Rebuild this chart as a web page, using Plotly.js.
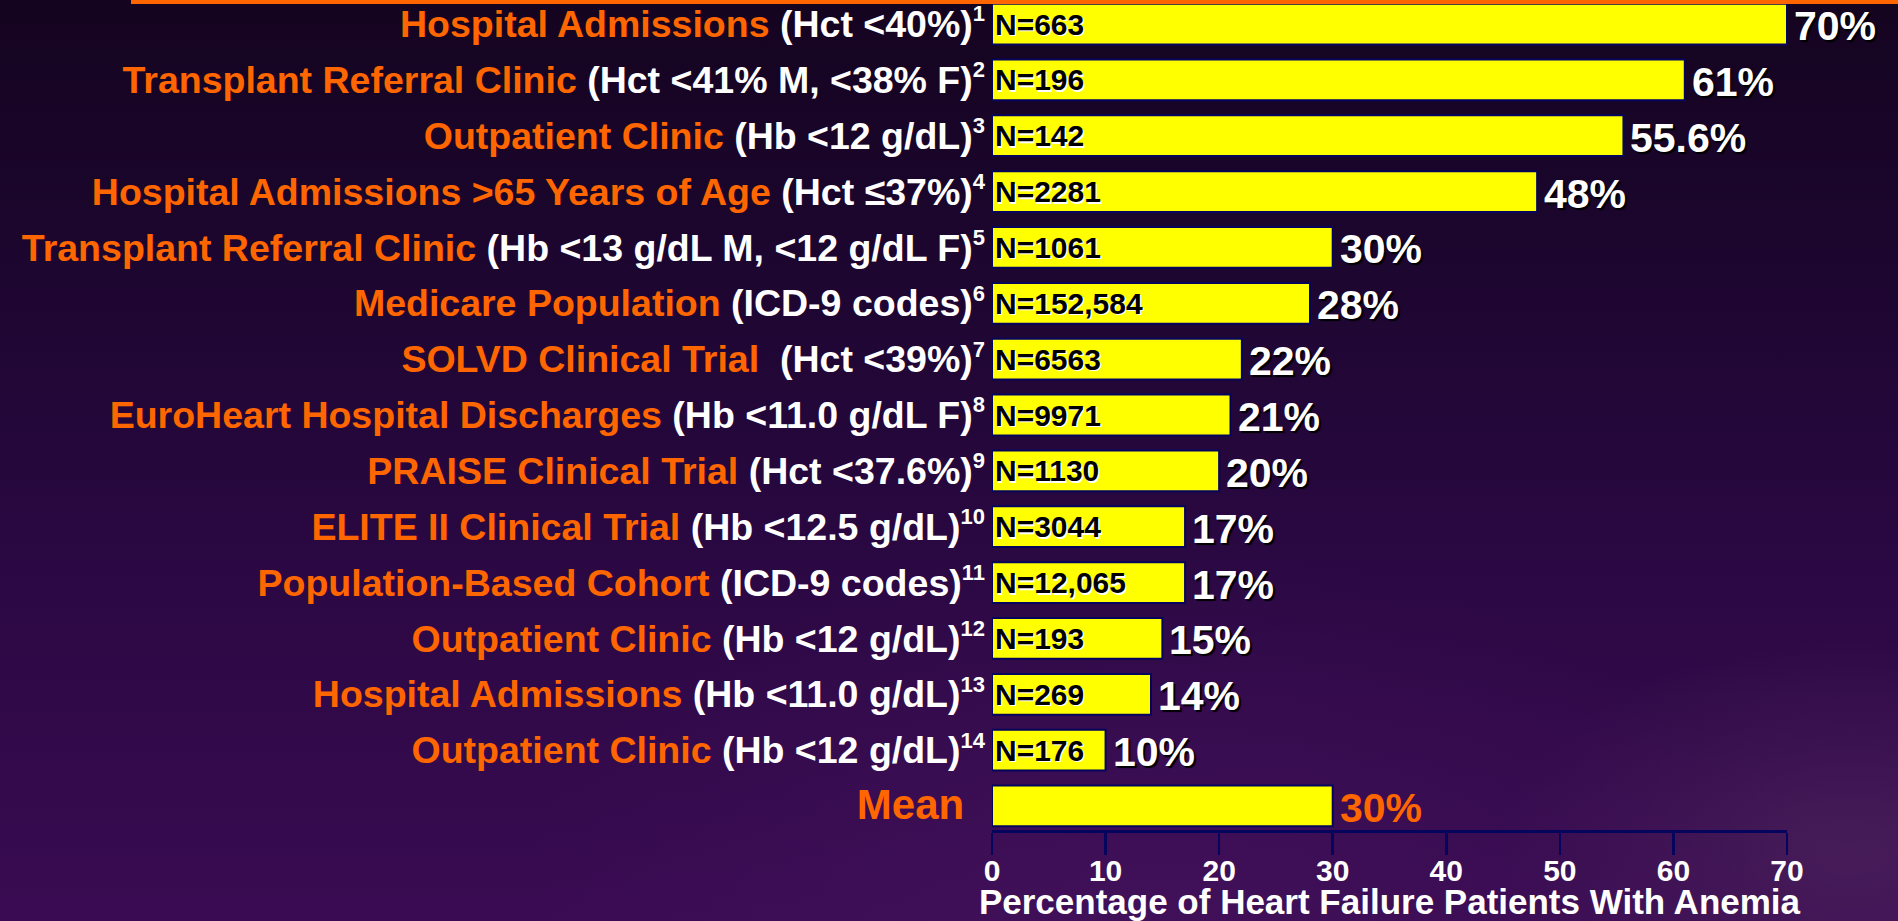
<!DOCTYPE html>
<html>
<head>
<meta charset="utf-8">
<script src="https://cdn.plot.ly/plotly-3.0.1.min.js"></script>
<style>
  html, body { margin: 0; padding: 0; width: 1898px; height: 921px; overflow: hidden; }
  body {
    background:
      radial-gradient(ellipse 900px 500px at 1150px 900px, rgba(70,20,95,0.55), rgba(70,20,95,0) 70%),
      radial-gradient(ellipse 500px 300px at 1850px 850px, rgba(90,50,100,0.45), rgba(90,50,100,0) 70%),
      linear-gradient(180deg, #150420 0%, #1d0630 30%, #2a0842 60%, #3a0b52 100%);
  }
  #chart { width: 1898px; height: 921px; }
</style>
</head>
<body>
<div id="chart"></div>
<script>
// ---- data ----
const studyNames = [
  "Hospital Admissions",
  "Transplant Referral Clinic",
  "Outpatient Clinic",
  "Hospital Admissions >65 Years of Age",
  "Transplant Referral Clinic",
  "Medicare Population",
  "SOLVD Clinical Trial",
  "EuroHeart Hospital Discharges",
  "PRAISE Clinical Trial",
  "ELITE II Clinical Trial",
  "Population-Based Cohort",
  "Outpatient Clinic",
  "Hospital Admissions",
  "Outpatient Clinic",
  "Mean"
];
const criteria = [
  "(Hct <40%)",
  "(Hct <41% M, <38% F)",
  "(Hb <12 g/dL)",
  "(Hct \u226437%)",
  "(Hb <13 g/dL M, <12 g/dL F)",
  "(ICD-9 codes)",
  "\u00a0(Hct <39%)",
  "(Hb <11.0 g/dL F)",
  "(Hct <37.6%)",
  "(Hb <12.5 g/dL)",
  "(ICD-9 codes)",
  "(Hb <12 g/dL)",
  "(Hb <11.0 g/dL)",
  "(Hb <12 g/dL)",
  ""
];
const refs = ["1","2","3","4","5","6","7","8","9","10","11","12","13","14",""];
const percentages = [70, 61, 55.6, 48, 30, 28, 22, 21, 20, 17, 17, 15, 14, 10, 30];
const percentLabels = ["70%","61%","55.6%","48%","30%","28%","22%","21%","20%","17%","17%","15%","14%","10%","30%"];
const sampleSizes = ["N=663","N=196","N=142","N=2281","N=1061","N=152,584","N=6563","N=9971","N=1130","N=3044","N=12,065","N=193","N=269","N=176",""];
const xTicks = [0, 10, 20, 30, 40, 50, 60, 70];
const xTitle = "Percentage of Heart Failure Patients With Anemia";

// ---- build ----
const FONT = "Liberation Sans, Arial, Helvetica, sans-serif";
const ORANGE = "#FF6600";
const NAVY = "#05055e";

const cats = studyNames.map((n, i) => "row" + i);
const tickText = studyNames.map((n, i) => {
  if (n === "Mean") {
    return '<span style="color:' + ORANGE + ';font-size:42px">' + n + '</span>\u00a0\u00a0';
  }
  return '<span style="color:' + ORANGE + '">' + n + '</span> ' + criteria[i] +
         '<sup><span style="font-size:22px">' + refs[i] + '</span></sup>';
});

const barTrace = {
  type: "bar",
  orientation: "h",
  x: percentages,
  y: cats,
  text: sampleSizes,
  textposition: "inside",
  insidetextanchor: "start",
  constraintext: "none",
  textangle: 0,
  insidetextfont: { family: FONT, size: 30, color: "#000000", weight: "bold", shadow: "1.5px 1.5px 0px #ffffff" },
  marker: { color: "#FFFF00", line: { color: NAVY, width: 2 } },
  cliponaxis: false,
  hoverinfo: "skip"
};

const annotations = percentages.map((v, i) => ({
  x: v,
  y: cats[i],
  xref: "x",
  yref: "y",
  text: percentLabels[i],
  showarrow: false,
  xanchor: "left",
  yanchor: "middle",
  xshift: 5,
  yshift: -2,
  font: {
    family: FONT, size: 41, weight: "bold",
    color: studyNames[i] === "Mean" ? ORANGE : "#ffffff",
    shadow: studyNames[i] === "Mean" ? "none" : "2px 2px 1px #000000"
  }
}));

const layout = {
  width: 1898,
  height: 921,
  margin: { l: 992, r: 111, t: 0, b: 91, pad: 0 },
  paper_bgcolor: "rgba(0,0,0,0)",
  plot_bgcolor: "rgba(0,0,0,0)",
  showlegend: false,
  bargap: 0.27,
  font: { family: FONT, color: "#ffffff", weight: "bold" },
  xaxis: {
    range: [0, 70],
    tickvals: xTicks,
    ticktext: xTicks.map(String),
    ticks: "outside",
    ticklen: 22,
    tickwidth: 2.5,
    tickcolor: NAVY,
    showline: true,
    linecolor: NAVY,
    linewidth: 3,
    showgrid: false,
    zeroline: false,
    ticklabelstandoff: -10,
    tickfont: { family: FONT, size: 30, color: "#ffffff", weight: "bold" },
    title: { text: xTitle, font: { family: FONT, size: 35, color: "#ffffff", weight: "bold" }, standoff: 2 },
    automargin: false,
    fixedrange: true
  },
  yaxis: {
    type: "category",
    categoryorder: "array",
    categoryarray: cats,
    tickvals: cats,
    ticktext: tickText,
    range: [14.43, -0.43],
    ticks: "",
    showline: false,
    showgrid: false,
    zeroline: false,
    ticklabelstandoff: 6,
    tickfont: { family: FONT, size: 37.5, color: "#ffffff", weight: "bold" },
    automargin: false,
    fixedrange: true
  },
  annotations: annotations,
  shapes: [{
    type: "rect", xref: "paper", yref: "paper",
    x0: (131 - 992) / 795, x1: (1898 - 992) / 795,
    y0: 1 - 4 / 830, y1: 1,
    fillcolor: ORANGE, line: { width: 0 }, layer: "above"
  }]
};

Plotly.newPlot("chart", [barTrace], layout, { displayModeBar: false, staticPlot: true });
</script>
</body>
</html>
